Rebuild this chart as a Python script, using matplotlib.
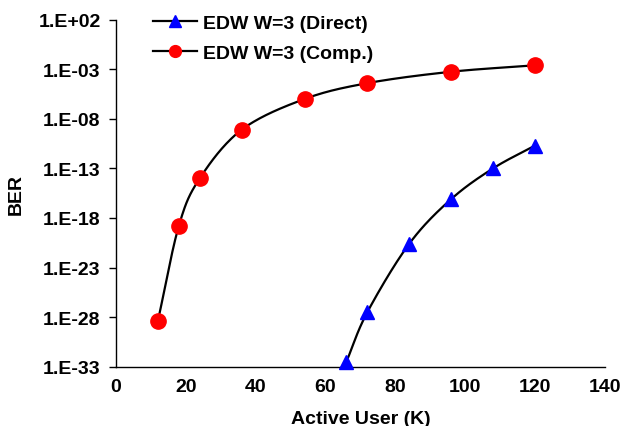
import numpy as np
import matplotlib
matplotlib.use("Agg")
import matplotlib.pyplot as plt

plt.rcParams['font.family'] = ['Liberation Sans', 'DejaVu Sans']
plt.rcParams['font.weight'] = 'bold'

# Data
comp_x = [12, 18, 24, 36, 54, 72, 96, 120]
comp_log_ber = [-28.4, -18.8, -14.0, -9.1, -6.0, -4.4, -3.25, -2.6]
direct_x = [66, 72, 84, 96, 108, 120]
direct_log_ber = [-32.5, -27.5, -20.6, -16.1, -13.0, -10.7]
y_tick_exps = [2, -3, -8, -13, -18, -23, -28, -33]
y_tick_labels = ['1.E+02', '1.E-03', '1.E-08', '1.E-13', '1.E-18', '1.E-23', '1.E-28', '1.E-33']
x_ticks = [0, 20, 40, 60, 80, 100, 120, 140]
labels = ['EDW W=3 (Direct)', 'EDW W=3 (Comp.)']


def catmull_rom(xs, ys, n=30):
    p = np.column_stack([xs, ys]).astype(float)
    p = np.vstack([2 * p[0] - p[1], p, 2 * p[-1] - p[-2]])
    out = []
    t = np.linspace(0, 1, n)[:, None]
    for i in range(1, len(p) - 2):
        p0, p1, p2, p3 = p[i - 1], p[i], p[i + 1], p[i + 2]
        seg = 0.5 * ((2 * p1) + (-p0 + p2) * t + (2 * p0 - 5 * p1 + 4 * p2 - p3) * t ** 2
                     + (-p0 + 3 * p1 - 3 * p2 + p3) * t ** 3)
        out.append(seg if i == 1 else seg[1:])
    out = np.vstack(out)
    return out[:, 0], out[:, 1]


fig = plt.figure(figsize=(6.28, 4.27), dpi=100)
ax = fig.add_axes([0.1847, 0.139, 0.963 - 0.1847, 0.9515 - 0.139])

ax.set_yscale('log')
ax.set_ylim(1e-33, 1e2)
ax.set_xlim(0, 140)

cx, cy = catmull_rom(direct_x, direct_log_ber)
ax.plot(cx, 10.0 ** cy, color='black', lw=1.6, zorder=2)
ax.plot(direct_x, 10.0 ** np.array(direct_log_ber), linestyle='none', marker='^',
        color='#0000FF', markersize=10.5, zorder=3, clip_on=False)
cx, cy = catmull_rom(comp_x, comp_log_ber)
ax.plot(cx, 10.0 ** cy, color='black', lw=1.6, zorder=2)
ax.plot(comp_x, 10.0 ** np.array(comp_log_ber), linestyle='none', marker='o',
        color='#FF0000', markersize=11, zorder=3)

h1, = ax.plot([], [], color='black', lw=1.6, marker='^', markerfacecolor='#0000FF',
              markeredgecolor='#0000FF', markersize=8)
h2, = ax.plot([], [], color='black', lw=1.6, marker='o', markerfacecolor='#FF0000',
              markeredgecolor='#FF0000', markersize=8.5)
leg = ax.legend([h1, h2], labels, loc='upper left', bbox_to_anchor=(0.039, 1.067),
                frameon=False, prop={'weight': 'bold', 'size': 14},
                handlelength=2.3, handletextpad=0.28, labelspacing=0.65)

ax.set_yticks([10.0 ** e for e in y_tick_exps])
ax.set_yticklabels(y_tick_labels)
ax.yaxis.set_minor_locator(matplotlib.ticker.NullLocator())
ax.set_xticks(x_ticks)
ax.set_xticklabels([str(v) for v in x_ticks])

for s in ['top', 'right']:
    ax.spines[s].set_visible(False)
for s in ['left', 'bottom']:
    ax.spines[s].set_linewidth(1.0)

ax.tick_params(axis='y', direction='out', length=5, width=1, labelsize=14, pad=6)
ax.tick_params(axis='x', length=0, labelsize=14, pad=8)
for lab in ax.get_xticklabels() + ax.get_yticklabels():
    lab.set_fontweight('bold')

ax.set_xlabel('Active User (K)', fontsize=14, fontweight='bold', labelpad=11)
ax.set_ylabel('BER', fontsize=14, fontweight='bold', labelpad=10)

fig.savefig('out.png', dpi=100)
